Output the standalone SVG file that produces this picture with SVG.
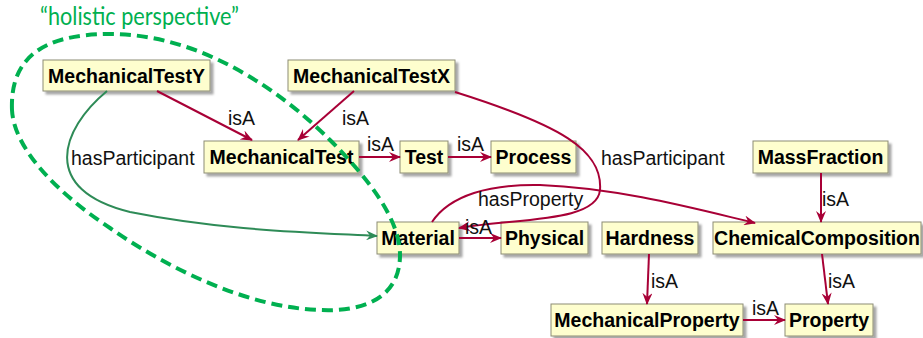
<svg xmlns="http://www.w3.org/2000/svg" width="923" height="338" viewBox="0 0 923 338">
  <defs>
    <filter id="shadow" x="-10%" y="-20%" width="130%" height="160%">
      <feDropShadow dx="3" dy="3" stdDeviation="1.2" flood-color="#000" flood-opacity="0.35"/>
    </filter>
    <marker id="arrRed" viewBox="0 0 12 10" refX="11" refY="5" markerWidth="12" markerHeight="10" markerUnits="userSpaceOnUse" orient="auto">
      <path d="M0,0 L12,5 L0,10 L4,5 Z" fill="#A80036"/>
    </marker>
    <marker id="arrGreen" viewBox="0 0 12 10" refX="11" refY="5" markerWidth="12" markerHeight="10" markerUnits="userSpaceOnUse" orient="auto">
      <path d="M0,0 L12,5 L0,10 L4,5 Z" fill="#2E8B57"/>
    </marker>
  </defs>
  <style>
    .box { fill: #FEFECE; stroke: #8C8C74; stroke-width: 1; filter: url(#shadow); }
    .lbl { font-family: "Liberation Sans", Arial, sans-serif; font-weight: bold; font-size: 19.5px; fill: #000; text-anchor: middle; }
    .elbl { font-family: "Liberation Sans", Arial, sans-serif; font-size: 19.5px; fill: #111; }
    .edge { fill: none; stroke: #A80036; stroke-width: 2; marker-end: url(#arrRed); }
    .edge.green { stroke: #2E8B57; marker-end: url(#arrGreen); }
    .hull { fill: none; stroke: #00B050; stroke-width: 4; stroke-dasharray: 11 6; }
    .note { font-family: "Lato", "Liberation Sans", sans-serif; font-size: 25px; fill: #00B050; }
  </style>
  <rect width="923" height="338" fill="#fff"/>

  <!-- nodes -->
  <g id="MechanicalTestY"><rect class="box" x="43" y="60" width="167" height="31"/><text class="lbl" x="126.5" y="83">MechanicalTestY</text></g>
  <g id="MechanicalTestX"><rect class="box" x="288" y="60" width="167" height="31"/><text class="lbl" x="371.5" y="83">MechanicalTestX</text></g>
  <g id="MechanicalTest"><rect class="box" x="204" y="141" width="155" height="32"/><text class="lbl" x="281.5" y="164">MechanicalTest</text></g>
  <g id="Test"><rect class="box" x="400" y="141" width="48" height="32"/><text class="lbl" x="424" y="164">Test</text></g>
  <g id="Process"><rect class="box" x="491" y="141" width="85" height="32"/><text class="lbl" x="533.5" y="164">Process</text></g>
  <g id="MassFraction"><rect class="box" x="753" y="141" width="135" height="32"/><text class="lbl" x="820.5" y="164">MassFraction</text></g>
  <g id="Material"><rect class="box" x="377" y="222" width="82" height="32"/><text class="lbl" x="418" y="245">Material</text></g>
  <g id="Physical"><rect class="box" x="501" y="222" width="87" height="32"/><text class="lbl" x="544.5" y="245">Physical</text></g>
  <g id="Hardness"><rect class="box" x="602" y="222" width="96" height="32"/><text class="lbl" x="650" y="245">Hardness</text></g>
  <g id="ChemicalComposition"><rect class="box" x="713" y="222" width="208" height="32"/><text class="lbl" x="817" y="245">ChemicalComposition</text></g>
  <g id="MechanicalProperty"><rect class="box" x="551" y="304" width="192" height="32"/><text class="lbl" x="647" y="327">MechanicalProperty</text></g>
  <g id="Property"><rect class="box" x="785" y="304" width="88" height="32"/><text class="lbl" x="829" y="327">Property</text></g>

  <!-- connectors -->
  <g id="connectors">
    <path class="edge" d="M157,91 L252,140"/>
    <text class="elbl" x="228" y="125">isA</text>
    <path class="edge" d="M354,91 L298,140"/>
    <text class="elbl" x="342" y="125">isA</text>
    <path class="edge" d="M359,157 L400,157"/>
    <text class="elbl" x="367" y="151">isA</text>
    <path class="edge" d="M448,157 L491,157"/>
    <text class="elbl" x="457" y="151">isA</text>
    <path class="edge" d="M455,92 C560,125 603,150 600,190 C597,222 520,218 459,228"/>
    <text class="elbl" x="601" y="165">hasParticipant</text>
    <path class="edge" d="M432,222 C450,195 490,184 540,185 C620,188 700,210 755,223"/>
    <text class="elbl" x="478" y="206">hasProperty</text>
    <path class="edge" d="M459,238 L501,238"/>
    <text class="elbl" x="465" y="234">isA</text>
    <path class="edge" d="M821,173 L821,222"/>
    <text class="elbl" x="822" y="206">isA</text>
    <path class="edge" d="M649,254 L647,304"/>
    <text class="elbl" x="651" y="288">isA</text>
    <path class="edge" d="M822,254 L828,304"/>
    <text class="elbl" x="828" y="288">isA</text>
    <path class="edge" d="M743,320 L785,320"/>
    <text class="elbl" x="752" y="315">isA</text>
    <path class="edge green" d="M107,91 C60,130 40,190 130,212 C220,230 300,232 377,236"/>
    <text class="elbl" x="71" y="165">hasParticipant</text>
  </g>

  <!-- dashed grouping outline and its caption -->
  <path class="hull" d="M12,110 C10,60 40,34 110,34 C200,34 280,90 330,140 C370,180 400,220 400,255 C400,300 360,312 320,310 C250,308 170,270 110,228 C60,195 14,150 12,110 Z"/>
  <text class="note" x="40" y="25" textLength="199" lengthAdjust="spacingAndGlyphs">“holistic perspective”</text>
</svg>
